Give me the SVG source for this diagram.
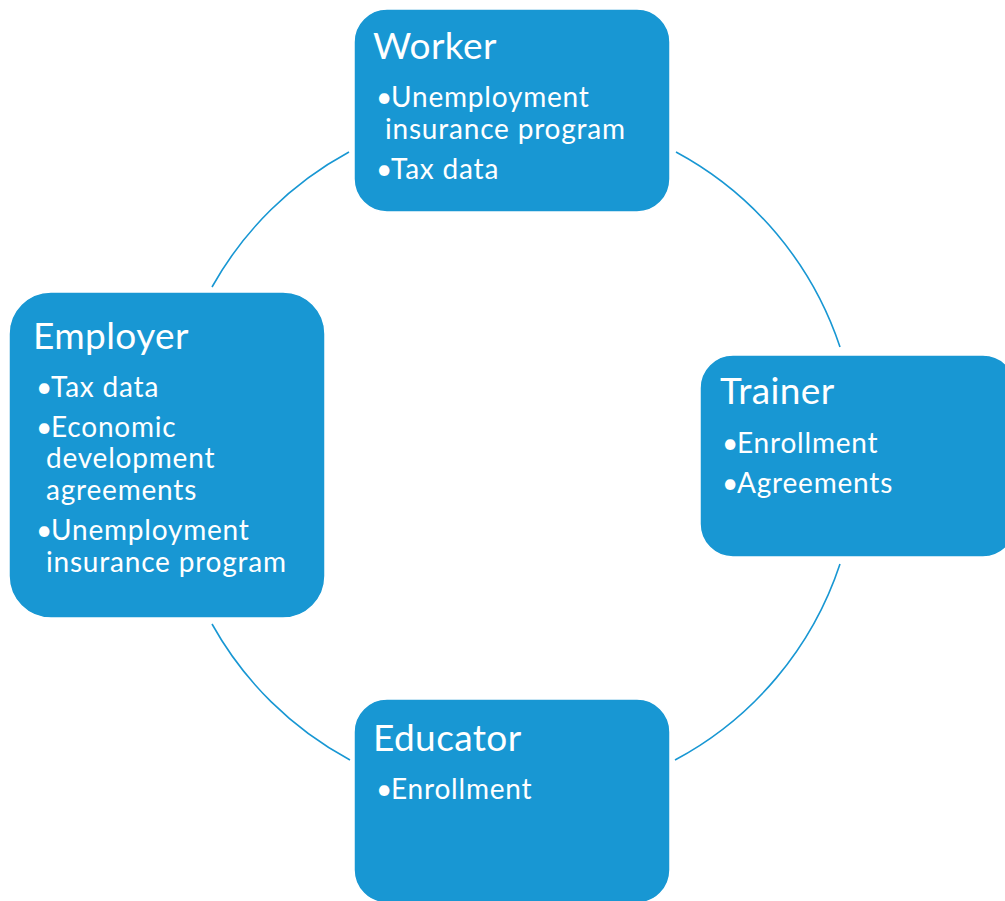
<svg xmlns="http://www.w3.org/2000/svg" width="1005" height="901" viewBox="0 0 1005 901">
  <style>
    .box { fill: #1897d3; stroke: #ffffff; stroke-width: 1.5; }
    .link { fill: none; stroke: #1897d3; stroke-width: 1.6; }
    .title { font-family: Lato, "Liberation Sans", sans-serif; font-size: 37px; letter-spacing: 0.4px; fill: #ffffff; }
    .item { font-family: Lato, "Liberation Sans", sans-serif; font-size: 28px; letter-spacing: 0.8px; fill: #ffffff; }
  </style>
  <rect width="1005" height="901" fill="#ffffff"/>

  <!-- cycle arcs between the four boxes (circle centre 512.5,455.5, r 345) -->
  <g id="connectors">
    <path class="link" d="M 676 152 A 345 345 0 0 1 840 347"/>
    <path class="link" d="M 840 564 A 345 345 0 0 1 675 760"/>
    <path class="link" d="M 350 760 A 345 345 0 0 1 212 624"/>
    <path class="link" d="M 212 287 A 345 345 0 0 1 349 152"/>
  </g>

  <g id="worker">
    <rect class="box" x="354" y="9" width="316" height="203" rx="33" ry="33"/>
    <text class="title" x="373" y="59">Worker</text>
    <text class="item" y="107"><tspan x="376">•</tspan><tspan x="391">Unemployment</tspan></text>
    <text class="item" x="385" y="139">insurance program</text>
    <text class="item" y="179"><tspan x="376">•</tspan><tspan x="391">Tax data</tspan></text>
  </g>

  <g id="trainer">
    <rect class="box" x="700" y="355" width="316" height="202" rx="33" ry="33"/>
    <text class="title" x="720" y="404">Trainer</text>
    <text class="item" y="453"><tspan x="722">•</tspan><tspan x="737">Enrollment</tspan></text>
    <text class="item" y="493"><tspan x="722">•</tspan><tspan x="737">Agreements</tspan></text>
  </g>

  <g id="educator">
    <rect class="box" x="354" y="699" width="316" height="204" rx="33" ry="33"/>
    <text class="title" x="373" y="751">Educator</text>
    <text class="item" y="799"><tspan x="376">•</tspan><tspan x="391">Enrollment</tspan></text>
  </g>

  <g id="employer">
    <rect class="box" x="9" y="292" width="316" height="326" rx="42" ry="42"/>
    <text class="title" x="33" y="349">Employer</text>
    <text class="item" y="397"><tspan x="36">•</tspan><tspan x="51">Tax data</tspan></text>
    <text class="item" y="437"><tspan x="36">•</tspan><tspan x="51">Economic</tspan></text>
    <text class="item" x="46" y="468">development</text>
    <text class="item" x="46" y="500">agreements</text>
    <text class="item" y="540"><tspan x="36">•</tspan><tspan x="51">Unemployment</tspan></text>
    <text class="item" x="46" y="572">insurance program</text>
  </g>
</svg>
